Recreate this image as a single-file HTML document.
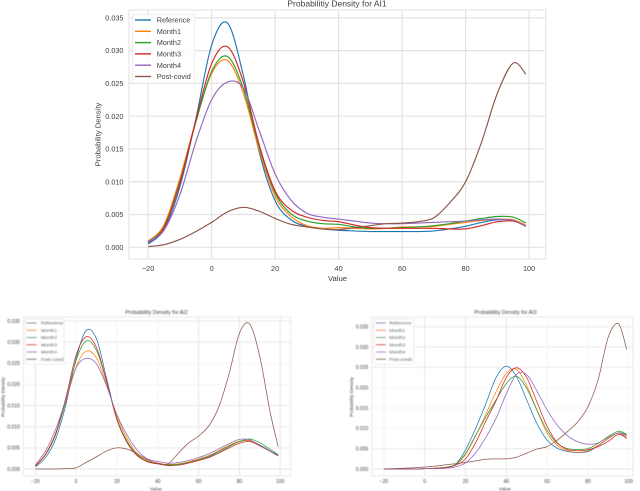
<!DOCTYPE html>
<html>
<head>
<meta charset="utf-8">
<style>
html,body{margin:0;padding:0;background:#fff;}
svg{display:block;font-family:"Liberation Sans",sans-serif;}
text{fill:#3f3f3f;}
</style>
</head>
<body>
<svg id="root" width="640" height="491" viewBox="0 0 640 491" xmlns="http://www.w3.org/2000/svg">
<defs>
<filter id="softTop" x="-5%" y="-5%" width="110%" height="110%"><feGaussianBlur stdDeviation="0.35"/></filter>
<filter id="softBottom" x="-5%" y="-5%" width="110%" height="110%"><feGaussianBlur stdDeviation="0.42"/></filter>
<filter id="softLines" x="-5%" y="-5%" width="110%" height="110%"><feGaussianBlur stdDeviation="0.18"/></filter>
</defs>
</svg>
<script>
const sampleValues = [-20,-15,-10,-5,0,5,10,15,20,25,30,35,40,45,50,55,60,65,70,75,80,85,90,95,99];
const seriesNames = ["Reference","Month1","Month2","Month3","Month4","Post-covid"];
const xTickValues = [-20,0,20,40,60,80,100];
const yTickValues = [0,0.005,0.01,0.015,0.02,0.025,0.03,0.035];
const yTickLabels = ["0.000","0.005","0.010","0.015","0.020","0.025","0.030","0.035"];

const ai1Reference = [.0005,.0027,.0092,.0195,.0308,.0342,.0262,.0145,.0071,.0042,.0032,.0028,.0026,.0025,.0024,.0024,.0024,.0024,.0025,.0028,.0032,.0038,.0042,.0041,.0032];
const ai1Month1 = [.0009,.0034,.0105,.0192,.0265,.0285,.0235,.0148,.0078,.0047,.0033,.0029,.003,.0029,.0028,.0029,.0031,.0031,.0032,.0035,.0038,.0041,.0043,.0042,.0034];
const ai1Month2 = [.0008,.0031,.01,.019,.0268,.0291,.0242,.0153,.0083,.0051,.004,.0036,.0035,.0031,.0029,.0029,.003,.0031,.0033,.0036,.004,.0044,.0047,.0046,.0037];
const ai1Month3 = [.0007,.003,.0098,.0193,.028,.0306,.0252,.0156,.0086,.0057,.0046,.0041,.0039,.0034,.003,.0029,.0029,.0029,.0029,.0028,.0028,.0033,.0039,.004,.0032];
const ai1Month4 = [.0009,.0026,.008,.016,.0225,.0252,.0243,.0178,.0112,.0072,.0052,.0046,.0043,.004,.0037,.0036,.0036,.0037,.0038,.0039,.004,.0042,.0043,.0041,.0032];
const ai1PostCovid = [.0001,.0004,.0012,.0024,.0038,.0054,.0061,.0055,.0044,.0035,.0031,.0028,.0027,.003,.0033,.0036,.0037,.0039,.0045,.0068,.01,.016,.0235,.0281,.0264];

const ai2Reference = [.0005,.0027,.0072,.0153,.0262,.0328,.0307,.0212,.0118,.0065,.0033,.0018,.0014,.00095,.0011,.0016,.0023,.003,.0043,.0055,.0065,.0067,.0057,.0043,.0033];
const ai2Month1 = [.0008,.0036,.0085,.016,.0242,.0279,.0262,.0198,.0125,.0072,.0036,.002,.0014,.0011,.0012,.0017,.0024,.0032,.0044,.0056,.0066,.0067,.0055,.0042,.0031];
const ai2Month2 = [.0007,.0034,.0082,.0163,.0258,.0303,.028,.0205,.0118,.0065,.0033,.0017,.0012,.001,.0011,.0015,.0021,.0028,.004,.0053,.0065,.0071,.0062,.0047,.0034];
const ai2Month3 = [.0007,.0035,.0085,.017,.027,.0313,.0287,.0205,.0116,.0062,.0031,.0017,.0012,.0008,.0009,.0014,.002,.0027,.0038,.005,.0061,.0065,.0055,.0042,.0031];
const ai2Month4 = [.001,.0043,.0095,.0165,.024,.0262,.0248,.0195,.0128,.008,.0044,.0024,.0018,.0014,.0015,.002,.0027,.0036,.0048,.006,.007,.0069,.0056,.0042,.0031];
const ai2PostCovid = [0,0,0,.0001,.0003,.0016,.0029,.0043,.005,.0047,.0036,.0022,.0014,.0012,.0037,.0061,.0078,.0102,.0148,.0226,.0321,.0343,.0266,.0136,.0053];

const ai3Reference = [0,0,0,0,.0001,.0002,.0004,.0011,.0047,.01,.0161,.0225,.0253,.0227,.017,.0112,.0071,.0051,.0043,.004,.0043,.0057,.0075,.0089,.0084];
const ai3Month1 = [0,0,0,0,.0001,.0002,.0004,.001,.0036,.0082,.0135,.019,.0235,.0245,.0205,.0145,.0088,.0058,.0045,.0041,.0045,.0058,.0075,.0088,.0082];
const ai3Month2 = [0,0,0,0,.0001,.0002,.0004,.0011,.0038,.0083,.0128,.017,.021,.0228,.0198,.0145,.0095,.0063,.005,.0048,.005,.0063,.008,.0093,.0085];
const ai3Month3 = [0,0,0,0,.0001,.0002,.0003,.0009,.0025,.0065,.0118,.0168,.0225,.0249,.0225,.0165,.0105,.0065,.0048,.0045,.0047,.0055,.0068,.0085,.0075];
const ai3Month4 = [0,0,0,0,.0001,.0001,.0002,.0005,.0015,.004,.0078,.0125,.0185,.0233,.0232,.0192,.0145,.0108,.0082,.0067,.0061,.0064,.0078,.0088,.0078];
const ai3PostCovid = [0,.0001,.0002,.0003,.0005,.0007,.001,.0013,.0016,.002,.0024,.0025,.0025,.0029,.0039,.0049,.0055,.0071,.0092,.0116,.0153,.0219,.0325,.0357,.0294];

const ai1FaintX = [];
const ai1FaintY = [];
const ai2FaintX = [0,20,40];
const ai2FaintY = [0.02,0.025];
const ai3FaintX = [-20,60,80,100];
const ai3FaintY = [0.01,0.015,0.02];

const seriesColors = ["#1f77b4","#ff7f0e","#2ca02c","#d62728","#9467bd","#8c564b"];
const NS = "http://www.w3.org/2000/svg";
const root = document.getElementById("root");

function make(parent, tag, attrs, txt) {
  const el = document.createElementNS(NS, tag);
  for (const k in attrs) el.setAttribute(k, attrs[k]);
  if (txt !== undefined) el.textContent = txt;
  parent.appendChild(el);
  return el;
}

function smoothPath(pts) {
  let d = "M" + pts[0][0].toFixed(2) + " " + pts[0][1].toFixed(2);
  for (let i = 0; i < pts.length - 1; i++) {
    const p0 = pts[Math.max(0, i - 1)], p1 = pts[i], p2 = pts[i + 1], p3 = pts[Math.min(pts.length - 1, i + 2)];
    const c1x = p1[0] + (p2[0] - p0[0]) / 6, c1y = p1[1] + (p2[1] - p0[1]) / 6;
    const c2x = p2[0] - (p3[0] - p1[0]) / 6, c2y = p2[1] - (p3[1] - p1[1]) / 6;
    d += "C" + c1x.toFixed(2) + " " + c1y.toFixed(2) + " " + c2x.toFixed(2) + " " + c2y.toFixed(2) + " " + p2[0].toFixed(2) + " " + p2[1].toFixed(2);
  }
  return d;
}

function drawChart(c) {
  const chart = make(root, "g", {});
  
  
  const g = make(chart, "g", {filter: c.filter});
  const marks = make(chart, "g", {filter: c.markFilter});
  const over = make(chart, "g", {filter: c.filter});
  const sx = v => c.x0 + v * c.xScale;
  const sy = v => c.y0 - v * c.yScale;
  const gridColor = "#e3e3e3", faint = "#f3f3f3";

  make(g, "rect", {x: c.left, y: c.top, width: c.right - c.left, height: c.bottom - c.top, fill: "#fff"});

  yTickValues.forEach((v, i) => {
    const ln = make(g, "line", {x1: c.left, x2: c.right, y1: sy(v), y2: sy(v), stroke: c.faintY.includes(v) ? faint : gridColor, "stroke-width": c.gridW});
    
    
    const t = make(g, "text", {x: c.left - c.tickPad, y: sy(v) + c.tickFont * 0.36, "text-anchor": "end", "font-size": c.tickFont}, yTickLabels[i]);
    
    
  });
  xTickValues.forEach(v => {
    const ln = make(g, "line", {x1: sx(v), x2: sx(v), y1: c.top, y2: c.bottom, stroke: c.faintX.includes(v) ? faint : gridColor, "stroke-width": c.gridW});
    
    
    const t = make(g, "text", {x: sx(v), y: c.xTickY, "text-anchor": "middle", "font-size": c.tickFont}, v < 0 ? "\u2212" + Math.abs(v) : String(v));
    
    
  });

  const frame = make(g, "rect", {x: c.left, y: c.top, width: c.right - c.left, height: c.bottom - c.top, fill: "none", stroke: "#e6e6e6", "stroke-width": c.gridW});
  
  

  c.series.forEach((vals, s) => {
    const pts = vals.map((v, i) => [sx(sampleValues[i]), sy(v)]);
    const p = make(marks, "path", {d: smoothPath(pts), fill: "none", stroke: seriesColors[s], "stroke-width": c.lineW});
    
    
  });

  const title = make(g, "text", {x: c.titleX, y: c.titleY, "text-anchor": "middle", "font-size": c.titleFont}, "Probabilitiy Density for " + c.name);
  
  
  const xl = make(g, "text", {x: c.xLabelX, y: c.xLabelY, "text-anchor": "middle", "font-size": c.labelFont}, "Value");
  
  
  const yl = make(g, "text", {transform: "translate(" + c.yLabelX + " " + c.yLabelY + ") rotate(-90)", "text-anchor": "middle", "font-size": c.labelFont}, "Probability Density");
  
  

  const lg = make(over, "g", {});
  
  
  make(lg, "rect", {x: c.lgX, y: c.lgY, width: c.lgW, height: c.lgH, fill: "#fff", "fill-opacity": 0.85, stroke: "#e4e4e4", "stroke-width": 0.7, rx: 1});
  seriesNames.forEach((n, i) => {
    const y = c.lgFirst + i * c.lgStep;
    const e = make(lg, "g", {});
    
    
    make(e, "line", {x1: c.lgX + c.lgLineIn, x2: c.lgX + c.lgLineIn + c.lgLineW, y1: y, y2: y, stroke: seriesColors[i], "stroke-width": c.lineW + 0.25});
    make(e, "text", {x: c.lgX + c.lgTextIn, y: y + c.lgFont * 0.36, "font-size": c.lgFont}, n);
  });
}

drawChart({id: "ai1", name: "AI1", filter: "url(#softTop)", markFilter: "url(#softTop)",
  series: [ai1Reference, ai1Month1, ai1Month2, ai1Month3, ai1Month4, ai1PostCovid],
  faintX: ai1FaintX, faintY: ai1FaintY,
  left: 129, right: 545.7, top: 10, bottom: 259,
  x0: 211.6, xScale: 3.175, y0: 247.3, yScale: 6556,
  tickFont: 7.3, tickPad: 5.5, xTickY: 271, gridW: 1.2, lineW: 1.15,
  titleFont: 8.5, titleX: 337, titleY: 6.5, labelFont: 7.7,
  xLabelX: 337.5, xLabelY: 281, yLabelX: 100.5, yLabelY: 134.5,
  lgX: 132.7, lgY: 14.3, lgW: 62, lgH: 69, lgFirst: 20, lgStep: 11.3,
  lgLineIn: 2.3, lgLineW: 16, lgTextIn: 24, lgFont: 7.3});

drawChart({id: "ai2", name: "AI2", filter: "url(#softBottom)", markFilter: "url(#softLines)",
  series: [ai2Reference, ai2Month1, ai2Month2, ai2Month3, ai2Month4, ai2PostCovid],
  faintX: ai2FaintX, faintY: ai2FaintY,
  left: 23.3, right: 290.7, top: 317, bottom: 476,
  x0: 76.2, xScale: 2.04, y0: 469, yScale: 4228,
  tickFont: 5, tickPad: 3.4, xTickY: 482.8, gridW: 0.9, lineW: 0.75,
  titleFont: 5.35, titleX: 156.5, titleY: 313.8, labelFont: 4.8,
  xLabelX: 156, xLabelY: 490.3, yLabelX: 4.7, yLabelY: 397,
  lgX: 25.3, lgY: 319, lgW: 38.7, lgH: 45.3, lgFirst: 323, lgStep: 7.25,
  lgLineIn: 1.4, lgLineW: 10, lgTextIn: 15.7, lgFont: 4.8});

drawChart({id: "ai3", name: "AI3", filter: "url(#softBottom)", markFilter: "url(#softLines)",
  series: [ai3Reference, ai3Month1, ai3Month2, ai3Month3, ai3Month4, ai3PostCovid],
  faintX: ai3FaintX, faintY: ai3FaintY,
  left: 371.7, right: 633, top: 317, bottom: 476,
  x0: 424.7, xScale: 2.04, y0: 469, yScale: 4066,
  tickFont: 5, tickPad: 3.4, xTickY: 482.8, gridW: 0.9, lineW: 0.75,
  titleFont: 5.35, titleX: 505.5, titleY: 313.8, labelFont: 4.8,
  xLabelX: 505, xLabelY: 490.3, yLabelX: 353, yLabelY: 397,
  lgX: 374, lgY: 319, lgW: 40, lgH: 45.3, lgFirst: 323, lgStep: 7.25,
  lgLineIn: 2, lgLineW: 10, lgTextIn: 15.3, lgFont: 4.8});
</script>
</body>
</html>
